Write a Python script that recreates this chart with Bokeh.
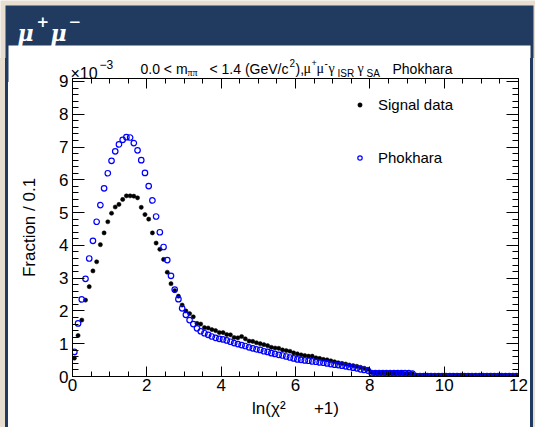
from bokeh.plotting import figure
from bokeh.models import (Range1d, FixedTicker, LinearAxis, Label, Legend,
                          LegendItem, ColumnDataSource, Spacer)
from bokeh.layouts import column, row
from bokeh.embed import file_html
from bokeh.resources import INLINE

# ---------------- data (fraction per 0.1 bin, in units of 1e-3) ----------------
bin_low = 0.0
bin_width = 0.1
signal_e3 = [
    0.56, 1.25, 1.72, 2.33, 2.74, 3.22, 3.50, 4.02, 4.38, 4.72,
    4.98, 5.17, 5.25, 5.40, 5.51, 5.51, 5.50, 5.45, 5.16, 4.94,
    4.80, 4.38, 4.07, 3.88, 3.57, 3.18, 2.83, 2.62, 2.45, 2.18,
    2.00, 1.92, 1.82, 1.62, 1.60, 1.49, 1.48, 1.43, 1.40, 1.34,
    1.34, 1.28, 1.27, 1.19, 1.18, 1.22, 1.15, 1.08, 1.07, 1.03,
    1.00, 0.97, 0.94, 0.89, 0.87, 0.86, 0.81, 0.79, 0.77, 0.72,
    0.69, 0.66, 0.64, 0.62, 0.62, 0.57, 0.55, 0.52, 0.51, 0.48,
    0.45, 0.42, 0.40, 0.38, 0.35, 0.33, 0.31, 0.28, 0.25, 0.22,
    0.12, 0.11, 0.11, 0.11, 0.10, 0.10, 0.10, 0.10, 0.10, 0.09,
    0.09, 0.08, 0.01, 0.01, 0.01, 0.01, 0.01, 0.01, 0.01, 0.01,
    0.01, 0.01, 0.01, 0.01, 0.01, 0.01, 0.01, 0.01, 0.01, 0.01,
    0.01, 0.01, 0.01, 0.01, 0.01, 0.01, 0.01, 0.01, 0.01, 0.01,
]
phokhara_e3 = [
    0.75, 1.62, 2.35, 2.98, 3.60, 4.14, 4.72, 5.23, 5.74, 6.20,
    6.58, 6.87, 7.08, 7.22, 7.30, 7.29, 7.12, 6.90, 6.60, 6.21,
    5.81, 5.37, 4.88, 4.40, 3.95, 3.55, 3.07, 2.65, 2.36, 2.08,
    1.88, 1.72, 1.60, 1.47, 1.38, 1.32, 1.27, 1.22, 1.18, 1.15,
    1.13, 1.10, 1.06, 1.02, 0.99, 0.96, 0.93, 0.89, 0.86, 0.83,
    0.81, 0.77, 0.75, 0.71, 0.69, 0.66, 0.64, 0.61, 0.58, 0.55,
    0.52, 0.51, 0.49, 0.48, 0.46, 0.45, 0.43, 0.42, 0.40, 0.38,
    0.36, 0.35, 0.33, 0.31, 0.29, 0.27, 0.25, 0.22, 0.20, 0.18,
    0.10, 0.10, 0.10, 0.10, 0.10, 0.10, 0.10, 0.10, 0.10, 0.10,
    0.10, 0.09, 0.01, 0.01, 0.01, 0.01, 0.01, 0.01, 0.01, 0.01,
    0.01, 0.01, 0.01, 0.01, 0.01, 0.01, 0.01, 0.01, 0.01, 0.01,
    0.01, 0.01, 0.01, 0.01, 0.01, 0.01, 0.01, 0.01, 0.01, 0.01,
]
x_major_ticks = [0, 2, 4, 6, 8, 10, 12]
y_major_ticks = [0, 1, 2, 3, 4, 5, 6, 7, 8, 9]

centers = [bin_low + bin_width * (i + 0.5) for i in range(len(signal_e3))]
src = ColumnDataSource(dict(x=centers, sig=signal_e3, pho=phokhara_e3))

# ---------------- style ----------------
BEIGE = "#e8ded0"
NAVY = "#203b5f"
SANS = "Liberation Sans"
SERIF = "Liberation Serif"

HEAD_H = 82          # header canvas height (page 0..82)
MAIN_TOP = 58        # main canvas starts here (overlaps header, transparent border)
OVERLAP = HEAD_H - MAIN_TOP
MAIN_H = 427 - MAIN_TOP
FRAME_TOP = 78

# ---------------- main figure ----------------
p = figure(width=522, height=MAIN_H, x_range=Range1d(0, 12), y_range=Range1d(0, 9.09),
           output_backend="svg", toolbar_location=None,
           min_border_left=64, min_border_right=12, min_border_top=FRAME_TOP - MAIN_TOP,
           min_border_bottom=51,
           background_fill_color="white", border_fill_color=None,
           outline_line_color="black", outline_line_width=1)
p.xgrid.visible = False
p.ygrid.visible = False

x_minor = [k * 0.5 for k in range(25)]
y_minor = [k * 0.2 for k in range(46)]


def style_axis(ax, ticker, major_len, minor_len, show_labels):
    ax.ticker = ticker
    ax.major_tick_in = major_len
    ax.major_tick_out = 0
    ax.minor_tick_in = minor_len
    ax.minor_tick_out = 0
    ax.axis_line_color = "black"
    ax.major_tick_line_color = "black"
    ax.minor_tick_line_color = "black"
    if show_labels:
        ax.major_label_text_font = SANS
        ax.major_label_text_font_size = "17px"
        ax.major_label_text_color = "black"
    else:
        ax.major_label_text_font_size = "0px"
        ax.major_label_text_alpha = 0
        ax.major_label_standoff = 0


xt = FixedTicker(ticks=x_major_ticks, minor_ticks=x_minor)
yt = FixedTicker(ticks=y_major_ticks, minor_ticks=y_minor)

xa = p.xaxis[0]
style_axis(xa, xt, 10, 5, True)
xa.major_label_standoff = 2
xa.axis_label = "ln(χ²\u00a0\u00a0\u00a0\u00a0\u00a0\u00a0+1)"
xa.axis_label_text_font = SANS
xa.axis_label_text_font_style = "normal"
xa.axis_label_text_font_size = "17px"
xa.axis_label_text_color = "black"
xa.axis_label_standoff = 5

ya = p.yaxis[0]
style_axis(ya, yt, 12, 6, True)
ya.major_label_standoff = 4
ya.axis_label = "Fraction / 0.1"
ya.axis_label_text_font = SANS
ya.axis_label_text_font_style = "normal"
ya.axis_label_text_font_size = "17px"
ya.axis_label_text_color = "black"
ya.axis_label_standoff = 17

top_ax = LinearAxis()
style_axis(top_ax, FixedTicker(ticks=x_major_ticks, minor_ticks=x_minor), 10, 5, False)
p.add_layout(top_ax, "above")
right_ax = LinearAxis()
style_axis(right_ax, FixedTicker(ticks=y_major_ticks, minor_ticks=y_minor), 12, 6, False)
p.add_layout(right_ax, "right")

r_sig = p.scatter("x", "sig", source=src, marker="circle", size=4.2,
                  fill_color="black", line_color="black", line_width=0.5)
r_pho = p.scatter("x", "pho", source=src, marker="circle", size=5.5,
                  fill_color=None, line_color="#0000ff", line_width=1.2)

legend = Legend(items=[LegendItem(label="Signal data", renderers=[r_sig]),
                       LegendItem(label="Phokhara", renderers=[r_pho])],
                location=(282, 209), orientation="vertical",
                border_line_color=None, background_fill_alpha=0,
                padding=0, margin=0, spacing=33,
                glyph_height=11, glyph_width=11, label_height=20,
                label_standoff=13, label_text_font=SANS, label_text_font_size="15px",
                label_text_color="black")
p.add_layout(legend)

# ---------------- header (page coords) ----------------
h = figure(width=535, height=HEAD_H, x_range=Range1d(0, 535), y_range=Range1d(HEAD_H, 0),
           output_backend="svg", toolbar_location=None,
           x_axis_location=None, y_axis_location=None, min_border=0,
           background_fill_color=BEIGE, border_fill_color=BEIGE, outline_line_color=None)
h.grid.visible = False
h.quad(left=5, right=533, top=5, bottom=HEAD_H, fill_color=NAVY, line_color=None)
h.quad(left=8, right=530, top=45, bottom=HEAD_H, fill_color="white", line_color=None)
for txt, x, y, sz in [("μ", 17, 32, 22), ("+", 36, 21, 15), ("μ", 50, 32, 22), ("−", 68, 21, 15)]:
    h.add_layout(Label(x=x, y=y, text=txt, text_font="DejaVu Serif",
                       text_font_style="bold italic", text_font_size=f"{sz}px",
                       text_color="white", text_baseline="alphabetic"))


def lab(text, px, py, size, font=SANS):
    h.add_layout(Label(x=px, y=py, text=text, text_font=font,
                       text_font_size=f"{size}px", text_color="black",
                       text_baseline="alphabetic", text_align="left"))


# exponent
lab("×10", 70, 73, 16)
lab("−3", 99, 64, 12)
# title pieces
lab("0.0 < m", 140, 68, 14)
lab("ππ", 187, 72, 10, SERIF)
lab("< 1.4 (GeV/c", 209, 68, 14)
lab("2", 289, 62, 10)
lab("), ", 295, 68, 14)
lab("μ", 303, 68, 14, SERIF)
lab("+", 311, 62, 9)
lab("μ", 316, 68, 14, SERIF)
lab("-", 324, 62, 10)
lab("γ", 328, 68, 14, SERIF)
lab("ISR", 337, 73, 10)
lab("γ", 357, 68, 14, SERIF)
lab("SA", 366, 73, 10)
lab("Phokhara", 392, 68, 14)

# ---------------- side strips ----------------
sl1 = Spacer(width=5, height=MAIN_H, styles={"background-color": BEIGE})
sl2 = Spacer(width=3, height=MAIN_H, styles={"background-color": NAVY})
sr1 = Spacer(width=3, height=MAIN_H, styles={"background-color": NAVY})
sr2 = Spacer(width=2, height=MAIN_H, styles={"background-color": BEIGE})

body = row(sl1, sl2, p, sr1, sr2, spacing=0, margin=(-OVERLAP, 0, 0, 0))
layout = column(h, body, spacing=0)

open("out.html", "w").write(file_html(layout, INLINE))
